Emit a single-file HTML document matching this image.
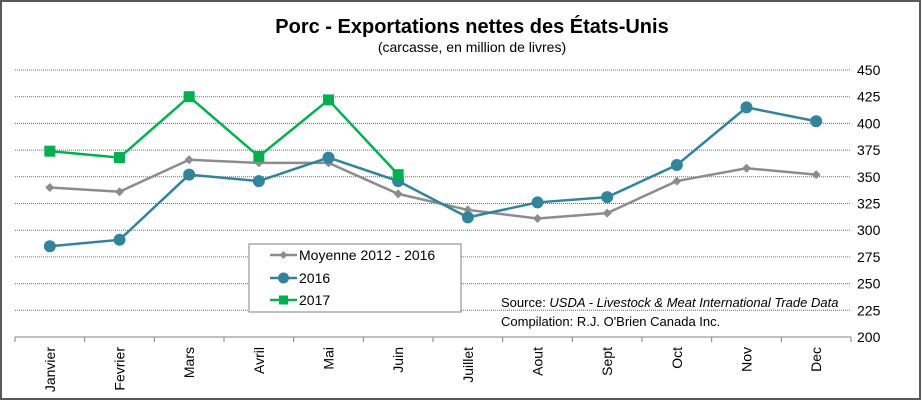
<!DOCTYPE html>
<html><head><meta charset="utf-8"><style>
body{margin:0;background:#fff}
svg{display:block;font-family:"Liberation Sans",Arial,sans-serif}
</style></head><body>
<svg id="chart" width="921" height="400">
<rect x="1" y="1" width="919" height="398" fill="#fff" stroke="#595959" stroke-width="2"/>
<text x="472" y="33" text-anchor="middle" font-size="20" font-weight="bold">Porc - Exportations nettes des États-Unis</text>
<text x="472" y="52" text-anchor="middle" font-size="14">(carcasse, en million de livres)</text>
<g id="grid"></g><g id="axes"></g><g id="series"></g>
<g>
<rect x="249" y="244" width="212" height="68" fill="#fff" stroke="#808080"/>
<g><line x1="270" y1="255" x2="297" y2="255" stroke="#8c8c8c" stroke-width="2.5"/><path d="M283.5 251 L287.5 255 L283.5 259 L279.5 255Z" fill="#8c8c8c"/><text x="299" y="260" font-size="14">Moyenne 2012 - 2016</text></g>
<g><line x1="270" y1="278" x2="297" y2="278" stroke="#31849b" stroke-width="2.5"/><circle cx="283.5" cy="278" r="5.5" fill="#31849b"/><text x="299" y="283" font-size="14">2016</text></g>
<g><line x1="270" y1="300" x2="297" y2="300" stroke="#00b050" stroke-width="2.5"/><rect x="279" y="295.5" width="9" height="9" fill="#00b050"/><text x="299" y="305" font-size="14">2017</text></g>
</g>
<text x="501" y="307" font-size="13">Source: <tspan font-style="italic">USDA - Livestock &amp; Meat International Trade Data</tspan></text>
<text x="501" y="326" font-size="13">Compilation: R.J. O'Brien Canada Inc.</text>
</svg>
<script>
const categories=["Janvier","Fevrier","Mars","Avril","Mai","Juin","Juillet","Aout","Sept","Oct","Nov","Dec"];
const moyenne=[340,336,366,363,363,334,319,311,316,346,358,352];
const s2016=[285,291,352,346,368,346,312,326,331,361,415,402];
const s2017=[374,368,425,369,422,352];
const yTicks=[200,225,250,275,300,325,350,375,400,425,450];
const NS="http://www.w3.org/2000/svg";
const L=15,R=851,T=70,B=337,ymin=200,ymax=450;
const xs=i=>L+(R-L)/categories.length*(i+0.5);
const ys=v=>B-(v-ymin)/(ymax-ymin)*(B-T);
function mk(tag,at,parent){const e=document.createElementNS(NS,tag);for(const k in at)e.setAttribute(k,at[k]);parent.appendChild(e);return e;}
const grid=document.getElementById('grid'),axes=document.getElementById('axes'),ser=document.getElementById('series');
yTicks.forEach(v=>{
 if(v>ymin){const g=mk('line',{x1:L,x2:R,y1:ys(v),y2:ys(v),stroke:'#6e6e6e','stroke-dasharray':'1,1','stroke-width':1},grid);
 
 }
 const t=mk('text',{x:857,y:ys(v)+5,'font-size':14},axes);t.textContent=v;
 
 
});
const ax=mk('line',{x1:L,x2:R,y1:B,y2:B,stroke:'#808080','stroke-width':1},axes);


for(let i=0;i<=categories.length;i++){const x=L+(R-L)/categories.length*i;mk('line',{x1:x,x2:x,y1:B,y2:B+5,stroke:'#808080'},axes);}
categories.forEach((c,i)=>{const t=mk('text',{x:0,y:0,'font-size':14,'text-anchor':'end',transform:`translate(${xs(i)+5},${B+10}) rotate(-90)`},axes);t.textContent=c;
 
 });
function line(vals,color,name,marker){
 const g=mk('g',{},ser);
 
 
 mk('polyline',{points:vals.map((v,i)=>xs(i)+','+ys(v)).join(' '),fill:'none',stroke:color,'stroke-width':2.5},g);
 vals.forEach((v,i)=>{let m;const x=xs(i),y=ys(v);
  if(marker==='d')m=mk('path',{d:`M${x} ${y-4.5}L${x+4.5} ${y}L${x} ${y+4.5}L${x-4.5} ${y}Z`,fill:color},g);
  else if(marker==='c')m=mk('circle',{cx:x,cy:y,r:6,fill:color},g);
  else m=mk('rect',{x:x-5.5,y:y-5.5,width:11,height:11,fill:color},g);
  
  });
}
line(moyenne,'#8c8c8c','moyenne','d');
line(s2016,'#31849b','2016','c');
line(s2017,'#00b050','2017','s');
</script>
</body></html>
